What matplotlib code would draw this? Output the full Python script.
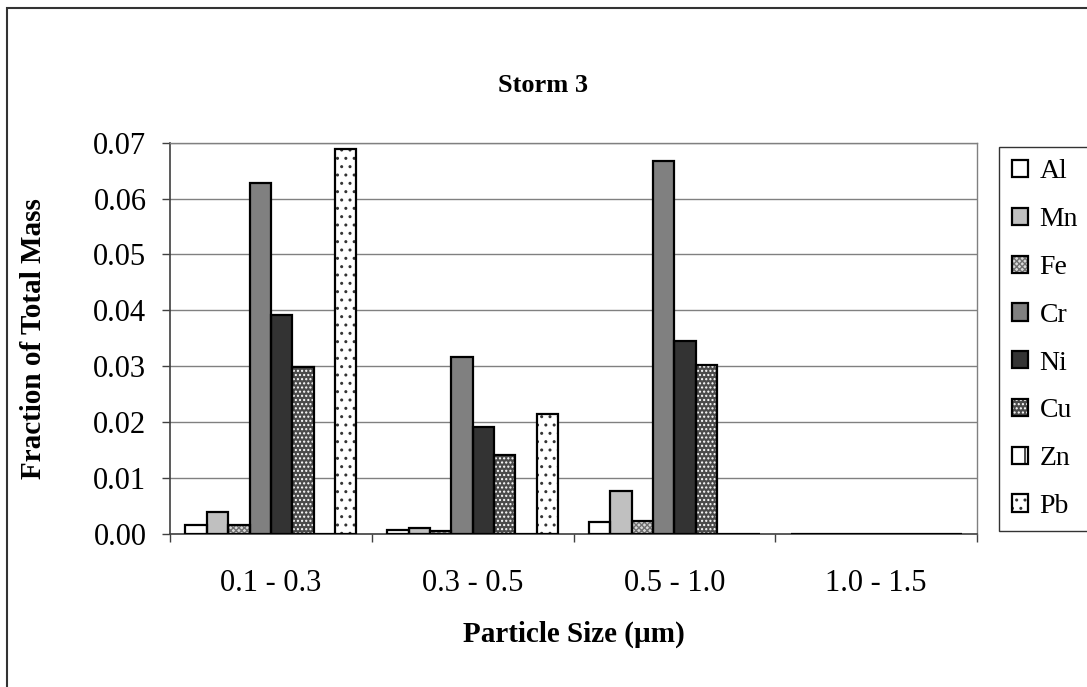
import numpy as np
import matplotlib.pyplot as plt
from matplotlib.patches import Patch, Rectangle
from matplotlib.legend_handler import HandlerTuple

plt.rcParams['font.family'] = ['Liberation Serif', 'DejaVu Serif']
plt.rcParams['hatch.linewidth'] = 1.0

sizes = ["0.1 - 0.3", "0.3 - 0.5", "0.5 - 1.0", "1.0 - 1.5"]
metals = ["Al", "Mn", "Fe", "Cr", "Ni", "Cu", "Zn", "Pb"]

al = [0.0017, 0.0007, 0.0021, 0.0]
mn = [0.0039, 0.0010, 0.0077, 0.0]
fe = [0.0017, 0.0006, 0.0024, 0.0]
cr = [0.0627, 0.0317, 0.0667, 0.0]
ni = [0.0392, 0.0192, 0.0346, 0.0]
cu = [0.0299, 0.0142, 0.0303, 0.0]
zn = [0.0, 0.0, 0.0, 0.0]
pb = [0.0689, 0.0214, 0.0, 0.0]
series = [al, mn, fe, cr, ni, cu, zn, pb]

# face colour, hatch, hatch colour
styles = [
    ('white', None, 'black'),
    ('#c0c0c0', None, 'black'),
    ('#d8d8d8', 'xxxxxx', '#707070'),
    ('#808080', None, 'black'),
    ('#333333', None, 'black'),
    ('#4a4a4a', '....', 'white'),
    ('white', '|', 'black'),
    ('white', '..', '#333333'),
]

fig = plt.figure(figsize=(10.87, 6.87), dpi=100)
ax = fig.add_axes([0.1564, 0.2227, 0.7424, 0.5696])

x = np.arange(len(sizes))
n = len(metals)
w = 0.847 / n
handles = []
for i, (vals, (face, hatch, hcol)) in enumerate(zip(series, styles)):
    pos = x - 0.847 / 2 + w * (i + 0.5)
    ax.bar(pos, vals, w, color=face, edgecolor=hcol, hatch=hatch, linewidth=0, zorder=2)
    ax.bar(pos, vals, w, fill=False, edgecolor='black', linewidth=1.6, zorder=3)
    h1 = Patch(facecolor=face, edgecolor=hcol, hatch=hatch, linewidth=0)
    h2 = Patch(fill=False, edgecolor='black', linewidth=1.6)
    handles.append((h1, h2))

ax.set_xlim(-0.5, 3.5)
ax.set_ylim(0, 0.07)
ax.set_yticks(np.arange(0, 0.0701, 0.01))
ax.yaxis.set_major_formatter(plt.FormatStrFormatter('%.2f'))
ax.yaxis.grid(True, color='#808080', linewidth=1.0, zorder=1)
ax.set_axisbelow(True)

ax.set_xticks(x)
ax.set_xticklabels(sizes)
ax.set_xticks(np.arange(-0.5, 3.6, 1.0), minor=True)
ax.tick_params(axis='x', which='major', length=0, pad=25, labelsize=22)
ax.tick_params(axis='x', which='minor', length=6, width=1, color='#404040', direction='out')
ax.tick_params(axis='y', length=6, width=1, color='#404040', labelsize=22, pad=11)

for side in ['top', 'right']:
    ax.spines[side].set_color('#808080')
    ax.spines[side].set_linewidth(1.0)
for side in ['left', 'bottom']:
    ax.spines[side].set_color('#404040')
    ax.spines[side].set_linewidth(1.2)

ax.set_xlabel('Particle Size (µm)', fontsize=21, fontweight='bold', va='center')
ax.xaxis.set_label_coords(0.5, (534 - 634) / 391.3)
ax.set_ylabel('Fraction of Total Mass', fontsize=21, fontweight='bold', va='center')
ax.yaxis.set_label_coords((33 - 170) / 807, 0.5)
fig.text(0.5, 1 - 85 / 687, 'Storm 3', ha='center', va='center', fontsize=19, fontweight='bold')

leg = fig.legend(handles, metals, handler_map={tuple: HandlerTuple(ndivide=1, pad=0)},
                 loc='upper left', bbox_to_anchor=(999 / 1087, 1 - 147 / 687),
                 fontsize=20, frameon=True, fancybox=False, edgecolor='black',
                 handlelength=0.58, handleheight=0.58, handletextpad=0.43,
                 labelspacing=0.82, borderpad=0.45, borderaxespad=0)
leg.get_frame().set_linewidth(1.0)

# chart border
fig.patches.append(Rectangle((7 / 1087, -0.02), 1.05, 1 - 8 / 687 + 0.02,
                             transform=fig.transFigure, fill=False,
                             edgecolor='#333333', linewidth=1.5))

fig.savefig('out.png', dpi=100)
